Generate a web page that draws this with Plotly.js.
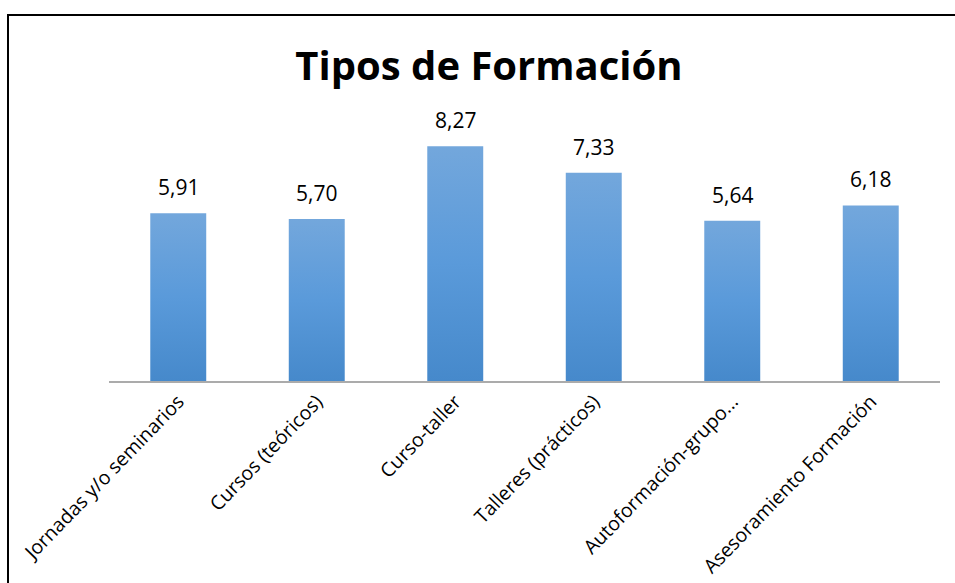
<!DOCTYPE html>
<html><head><meta charset="utf-8">
<script src="https://cdn.plot.ly/plotly-3.0.1.min.js"></script>
<style>
html,body{margin:0;padding:0;background:#fff;}
#chart{width:955px;height:583px;position:absolute;left:0;top:0;}
#frame{position:absolute;left:7px;top:14px;width:1000px;height:700px;border-left:2px solid #000;border-top:2px solid #000;pointer-events:none;}
</style></head>
<body>
<div id="chart"></div>
<div id="frame"></div>
<script>
const categories = ["Jornadas y/o seminarios","Cursos (teóricos)","Curso-taller","Talleres (prácticos)","Autoformación-grupo...","Asesoramiento Formación"];
const values = [5.91, 5.70, 8.27, 7.33, 5.64, 6.18];
const chartTitle = "Tipos de Formación";

const fmt = v => v.toFixed(2).replace('.', ',');

const trace = {
  type: 'bar',
  x: categories,
  y: values,
  marker: {color: '#5b9bd5', line: {width: 0}},
  hoverinfo: 'none'
};

const annotations = categories.map((c, i) => ({
  x: c, y: values[i], xref: 'x', yref: 'y',
  text: fmt(values[i]), showarrow: false,
  yanchor: 'bottom', yshift: 10,
  font: {family: 'Open Sans, sans-serif', size: 21, color: '#000'}
}));

const layout = {
  width: 955, height: 583,
  paper_bgcolor: '#fff', plot_bgcolor: '#fff',
  separators: ',.',
  margin: {l: 109, r: 15, t: 97, b: 202, autoexpand: false},
  title: {
    text: '<b>' + chartTitle + '</b>',
    font: {family: 'Open Sans, sans-serif', size: 40, color: '#000'},
    x: 0.512, xref: 'container', xanchor: 'center',
    y: 0.91, yref: 'container', yanchor: 'top'
  },
  bargap: 0.596,
  xaxis: {
    type: 'category',
    tickangle: -46,
    tickfont: {family: 'Open Sans, sans-serif', size: 19.5, color: '#000'},
    showline: true, linecolor: '#ababab', linewidth: 1.5,
    ticks: '', showgrid: false, automargin: false
  },
  yaxis: {
    range: [0, 10], visible: false, showgrid: false, zeroline: false
  },
  annotations: annotations,
  showlegend: false
};

Plotly.newPlot('chart', [trace], layout, {displayModeBar: false, staticPlot: true}).then(gd => {
  const svg = gd.querySelector('svg.main-svg');
  const ns = 'http://www.w3.org/2000/svg';
  let defs = svg.querySelector('defs');
  if (!defs) { defs = document.createElementNS(ns, 'defs'); svg.insertBefore(defs, svg.firstChild); }
  const g = document.createElementNS(ns, 'linearGradient');
  g.setAttribute('id', 'barGrad');
  g.setAttribute('x1', '0'); g.setAttribute('y1', '0');
  g.setAttribute('x2', '0'); g.setAttribute('y2', '1');
  [['0%', '#73a7dc'], ['50%', '#5a9ada'], ['100%', '#4689cb']].forEach(([o, c]) => {
    const s = document.createElementNS(ns, 'stop');
    s.setAttribute('offset', o); s.setAttribute('stop-color', c);
    g.appendChild(s);
  });
  defs.appendChild(g);
  gd.querySelectorAll('.bars .point path').forEach(p => { p.style.fill = 'url(#barGrad)'; });
});
</script>
</body></html>
